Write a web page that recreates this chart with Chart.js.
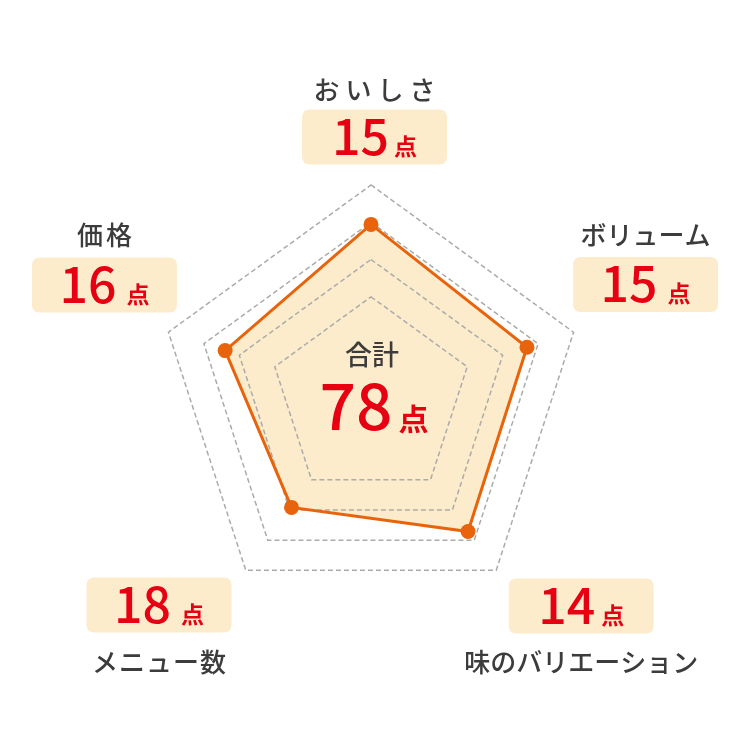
<!DOCTYPE html>
<html><head><meta charset="utf-8">
<script src="https://cdn.jsdelivr.net/npm/chart.js@4/dist/chart.umd.min.js"></script>
<style>html,body{margin:0;padding:0;background:#fff;}canvas{display:block;}</style>
</head><body>
<canvas id="c" width="750" height="751"></canvas>
<script>
// ---- data ----
const categories = ['おいしさ', 'ボリューム', '味のバリエーション', 'メニュー数', '価格'];
const scores = [15, 15, 14, 18, 16];             // score shown in each box
const plotValues = [16.3, 15.4, 15.5, 12.7, 14.4]; // plotted radius values
const scaleMax = 20;
const gridValues = [0, 9.5, 13, 16.5, 20];       // dashed pentagon levels
const totalLabel = '合計';
const unitLabel = '点';

// ---- style / layout ----
const ORANGE = '#E8640C';
const FILL = '#FDECCB';
const RED = '#E60012';
const TEXT = '#3c3c3c';
const FONT = '"Noto Sans CJK JP", "Noto Sans", sans-serif';
const boxOffsets = [[3.5, -48], [72, -47.7], [85, 35.7], [-86.8, 34.7], [-64, -47.2]];
const nameDy = [-47, -49.5, 56, 57, -50];
const nameSpacing = [6, 0, 0, 1, 3];
const unitGap = [5, 10, 6, 10, 10];

function roundRect(ctx, x, y, w, h, r) {
  ctx.beginPath();
  ctx.moveTo(x + r, y);
  ctx.lineTo(x + w - r, y); ctx.quadraticCurveTo(x + w, y, x + w, y + r);
  ctx.lineTo(x + w, y + h - r); ctx.quadraticCurveTo(x + w, y + h, x + w - r, y + h);
  ctx.lineTo(x + r, y + h); ctx.quadraticCurveTo(x, y + h, x, y + h - r);
  ctx.lineTo(x, y + r); ctx.quadraticCurveTo(x, y, x + r, y);
  ctx.closePath();
}

function drawScore(ctx, text, cx, baseline, numSize, unitSize, gap) {
  ctx.font = '500 ' + numSize + 'px ' + FONT;
  const wn = ctx.measureText(text).width;
  ctx.font = '700 ' + unitSize + 'px ' + FONT;
  const wu = ctx.measureText(unitLabel).width;
  const x0 = cx - (wn + gap + wu) / 2;
  ctx.fillStyle = RED;
  ctx.textAlign = 'left';
  ctx.textBaseline = 'alphabetic';
  ctx.font = '500 ' + numSize + 'px ' + FONT;
  ctx.fillText(text, x0, baseline);
  ctx.font = '700 ' + unitSize + 'px ' + FONT;
  ctx.fillText(unitLabel, x0 + wn + gap, baseline);
}

const labelPlugin = {
  id: 'customLabels',
  afterDraw(chart) {
    const s = chart.scales.r;
    const ctx = chart.ctx;
    ctx.save();
    categories.forEach((name, i) => {
      const p = s.getPointPosition(i, s.drawingArea);
      const bx = p.x + boxOffsets[i][0];
      const by = p.y + boxOffsets[i][1];
      ctx.fillStyle = FILL;
      roundRect(ctx, bx - 72.5, by - 27.5, 145, 55, 8);
      ctx.fill();
      drawScore(ctx, String(scores[i]), bx, by + 18, 50, 23, unitGap[i]);
      ctx.fillStyle = TEXT;
      ctx.font = '500 26px ' + FONT;
      ctx.textAlign = 'center';
      ctx.textBaseline = 'middle';
      if ('letterSpacing' in ctx) ctx.letterSpacing = nameSpacing[i] + 'px';
      ctx.fillText(name, bx + nameSpacing[i] / 2, by + nameDy[i]);
      if ('letterSpacing' in ctx) ctx.letterSpacing = '0px';
    });
    // centre total
    const total = scores.reduce((a, b) => a + b, 0);
    ctx.fillStyle = TEXT;
    ctx.font = '500 27px ' + FONT;
    ctx.textAlign = 'center';
    ctx.textBaseline = 'middle';
    ctx.fillText(totalLabel, s.xCenter + 1, s.yCenter - 43);
    drawScore(ctx, String(total), s.xCenter + 3, s.yCenter + 32, 64, 30, 6);
    ctx.restore();
  }
};

new Chart(document.getElementById('c'), {
  type: 'radar',
  data: {
    labels: categories,
    datasets: [{
      data: plotValues,
      borderColor: ORANGE,
      borderWidth: 3,
      backgroundColor: FILL,
      fill: true,
      pointRadius: 7.5,
      pointHoverRadius: 7.5,
      pointBackgroundColor: ORANGE,
      pointBorderWidth: 0,
      tension: 0
    }]
  },
  options: {
    responsive: false,
    animation: false,
    layout: { padding: { left: 158, right: 166, top: 185, bottom: 140 } },
    plugins: {
      legend: { display: false },
      tooltip: { enabled: false },
      filler: { drawTime: 'beforeDraw' }
    },
    scales: {
      r: {
        min: 0,
        max: scaleMax,
        afterBuildTicks: (scale) => { scale.ticks = gridValues.map(v => ({ value: v })); },
        ticks: { display: false },
        pointLabels: { display: false },
        angleLines: { display: false },
        grid: { color: '#ababab', lineWidth: 1.5, borderDash: [5, 3] },
        border: { dash: [5, 3] }
      }
    }
  },
  plugins: [labelPlugin]
});
</script>
</body></html>
